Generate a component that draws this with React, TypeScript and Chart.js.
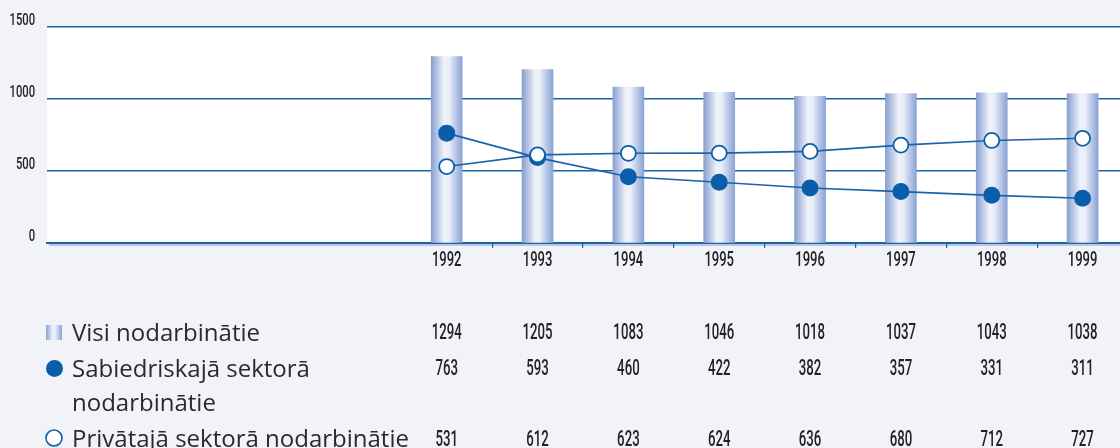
import React, { useEffect, useRef } from "react";
import { Chart, registerables } from "chart.js";

Chart.register(...registerables);

// ---- data ----
const YEARS = [1992, 1993, 1994, 1995, 1996, 1997, 1998, 1999];
const ALL_EMPLOYED = [1294, 1205, 1083, 1046, 1018, 1037, 1043, 1038];
const PUBLIC_SECTOR = [763, 593, 460, 422, 382, 357, 331, 311];
const PRIVATE_SECTOR = [531, 612, 623, 624, 636, 680, 712, 727];
const Y_TICKS = [0, 500, 1000, 1500];
const LABEL_ALL = ["Visi nodarbinātie"];
const LABEL_PUBLIC = ["Sabiedriskajā sektorā", "nodarbinātie"];
const LABEL_PRIVATE = ["Privātajā sektorā nodarbinātie"];

// x range of the plot (years), leaves an empty zone on the left
const X_MIN = 1987.6;
const X_MAX = 1999.5;

// ---- styles ----
const BLUE = "#1b62a6";
const DOT = "#0a5da8";
const DIGIT_FONT = "Roboto, 'Liberation Sans', sans-serif";
const HUMAN = "'Open Sans', 'Lato', sans-serif";
const TEXT = "#222";
const BAR_W = 31;

function barGradient(ctx: CanvasRenderingContext2D, x0: number, w: number) {
  if (!Number.isFinite(x0) || !Number.isFinite(w)) return "#c5d2ec";
  const g = ctx.createLinearGradient(x0, 0, x0 + w, 0);
  g.addColorStop(0, "#889fd0");
  g.addColorStop(0.42, "#eef2fa");
  g.addColorStop(0.58, "#e9eef9");
  g.addColorStop(1, "#8aa2d4");
  return g;
}

// draw text horizontally condensed (the original uses a condensed face)
function condensed(
  ctx: CanvasRenderingContext2D,
  text: string,
  x: number,
  y: number,
  sx: number,
  align: CanvasTextAlign
) {
  ctx.save();
  ctx.translate(x, y);
  ctx.scale(sx, 1);
  ctx.textAlign = align;
  ctx.fillText(text, 0, 0);
  ctx.restore();
}

const decor = {
  id: "decor",
  beforeDraw(chart: any) {
    const { ctx, chartArea: a } = chart;
    ctx.save();
    ctx.fillStyle = "#ffffff";
    ctx.fillRect(a.left, a.top, a.right - a.left, a.bottom - a.top);
    ctx.fillStyle = "#b7c7e4";
    ctx.fillRect(a.left + 2, a.bottom + 1, a.right - a.left, 2);
    ctx.restore();
  },
  afterDraw(chart: any) {
    const { ctx } = chart;
    const xs = chart.scales.x;
    const ys = chart.scales.y;
    ctx.save();

    // axis labels
    ctx.fillStyle = TEXT;
    ctx.textBaseline = "middle";
    ctx.font = `500 16px ${DIGIT_FONT}`;
    Y_TICKS.forEach((v) => {
      condensed(ctx, String(v), 35, ys.getPixelForValue(v) - 6, 0.7, "right");
    });
    ctx.font = `500 21px ${DIGIT_FONT}`;
    YEARS.forEach((yr) => {
      condensed(ctx, String(yr), xs.getPixelForValue(yr), 261, 0.62, "center");
    });

    // legend markers
    ctx.fillStyle = barGradient(ctx, 46, 16);
    ctx.fillRect(46, 325, 16, 15);
    ctx.beginPath();
    ctx.arc(54.5, 368.5, 8.5, 0, Math.PI * 2);
    ctx.fillStyle = DOT;
    ctx.fill();
    ctx.beginPath();
    ctx.arc(54, 438, 8, 0, Math.PI * 2);
    ctx.fillStyle = "#fff";
    ctx.fill();
    ctx.lineWidth = 1.6;
    ctx.strokeStyle = DOT;
    ctx.stroke();

    // legend labels
    ctx.fillStyle = "#2a2a2a";
    ctx.font = `24px ${HUMAN}`;
    ctx.textAlign = "left";
    ctx.textBaseline = "alphabetic";
    ctx.fillText(LABEL_ALL[0], 72, 341);
    ctx.fillText(LABEL_PUBLIC[0], 72, 377);
    ctx.fillText(LABEL_PUBLIC[1], 72, 411);
    ctx.fillText(LABEL_PRIVATE[0], 72, 447);

    // value table
    ctx.fillStyle = TEXT;
    ctx.font = `500 22px ${DIGIT_FONT}`;
    ctx.textBaseline = "middle";
    const rows: [number[], number][] = [
      [ALL_EMPLOYED, 333],
      [PUBLIC_SECTOR, 369],
      [PRIVATE_SECTOR, 440],
    ];
    rows.forEach(([vals, y]) => {
      vals.forEach((v, i) => {
        condensed(ctx, String(v), xs.getPixelForValue(YEARS[i]), y, 0.6, "center");
      });
    });
    ctx.restore();
  },
};

export default function App() {
  const ref = useRef<HTMLCanvasElement | null>(null);

  useEffect(() => {
    document.body.style.margin = "0";
    const canvas = ref.current!;
    const chart = new Chart(canvas, {
      type: "bar",
      data: {
        datasets: [
          {
            type: "line",
            label: LABEL_PRIVATE.join(" "),
            data: YEARS.map((y, i) => ({ x: y, y: PRIVATE_SECTOR[i] })),
            borderColor: BLUE,
            borderWidth: 1.6,
            pointRadius: 7.5,
            pointBackgroundColor: "#ffffff",
            pointBorderColor: DOT,
            pointBorderWidth: 1.8,
            order: 1,
          } as any,
          {
            type: "line",
            label: LABEL_PUBLIC.join(" "),
            data: YEARS.map((y, i) => ({ x: y, y: PUBLIC_SECTOR[i] })),
            borderColor: BLUE,
            borderWidth: 1.6,
            pointRadius: 8.5,
            pointBackgroundColor: DOT,
            pointBorderColor: DOT,
            pointBorderWidth: 0,
            order: 2,
          } as any,
          {
            type: "bar",
            label: LABEL_ALL[0],
            data: YEARS.map((y, i) => ({ x: y, y: ALL_EMPLOYED[i] })),
            barThickness: BAR_W,
            borderWidth: 0,
            backgroundColor: (c: any) => {
              const ch = c.chart;
              const xs = ch.scales?.x;
              const raw = c.raw;
              if (!xs || !raw || !ch.chartArea) return "#c5d2ec";
              const px = xs.getPixelForValue(raw.x);
              return barGradient(ch.ctx, px - BAR_W / 2, BAR_W);
            },
            order: 3,
          } as any,
        ],
      },
      options: {
        responsive: false,
        animation: false,
        devicePixelRatio: 1,
        layout: { autoPadding: false, padding: { top: 27, left: 0, right: 0, bottom: 0 } },
        plugins: {
          legend: { display: false },
          tooltip: { enabled: false },
        },
        scales: {
          x: {
            type: "linear",
            min: X_MIN,
            max: X_MAX,
            offset: false,
            afterBuildTicks: (s: any) => {
              s.ticks = YEARS.map((v) => ({ value: v }));
            },
            afterFit: (s: any) => {
              s.height = 448 - 243;
            },
            ticks: { display: false },
            grid: {
              offset: true,
              drawOnChartArea: false,
              drawTicks: true,
              tickLength: 5,
              lineWidth: 1.2,
              color: (c: any) => (c.index >= 1 ? BLUE : "rgba(0,0,0,0)"),
            },
            border: { display: true, color: BLUE, width: 2 },
          },
          y: {
            min: 0,
            max: 1500,
            afterBuildTicks: (s: any) => {
              s.ticks = Y_TICKS.map((v) => ({ value: v }));
            },
            afterFit: (s: any) => {
              s.width = 47;
            },
            ticks: { display: false },
            grid: {
              drawTicks: false,
              color: BLUE,
              lineWidth: 1.4,
            },
            border: { display: false },
          },
        },
      },
      plugins: [decor],
    } as any);
    return () => chart.destroy();
  }, []);

  return (
    <div
      style={{
        position: "absolute",
        left: 0,
        top: 0,
        width: 1120,
        height: 448,
        overflow: "hidden",
        background: "#f2f3f8",
      }}
    >
      <canvas ref={ref} width={1128} height={448} style={{ display: "block", width: 1128, height: 448 }} />
    </div>
  );
}
